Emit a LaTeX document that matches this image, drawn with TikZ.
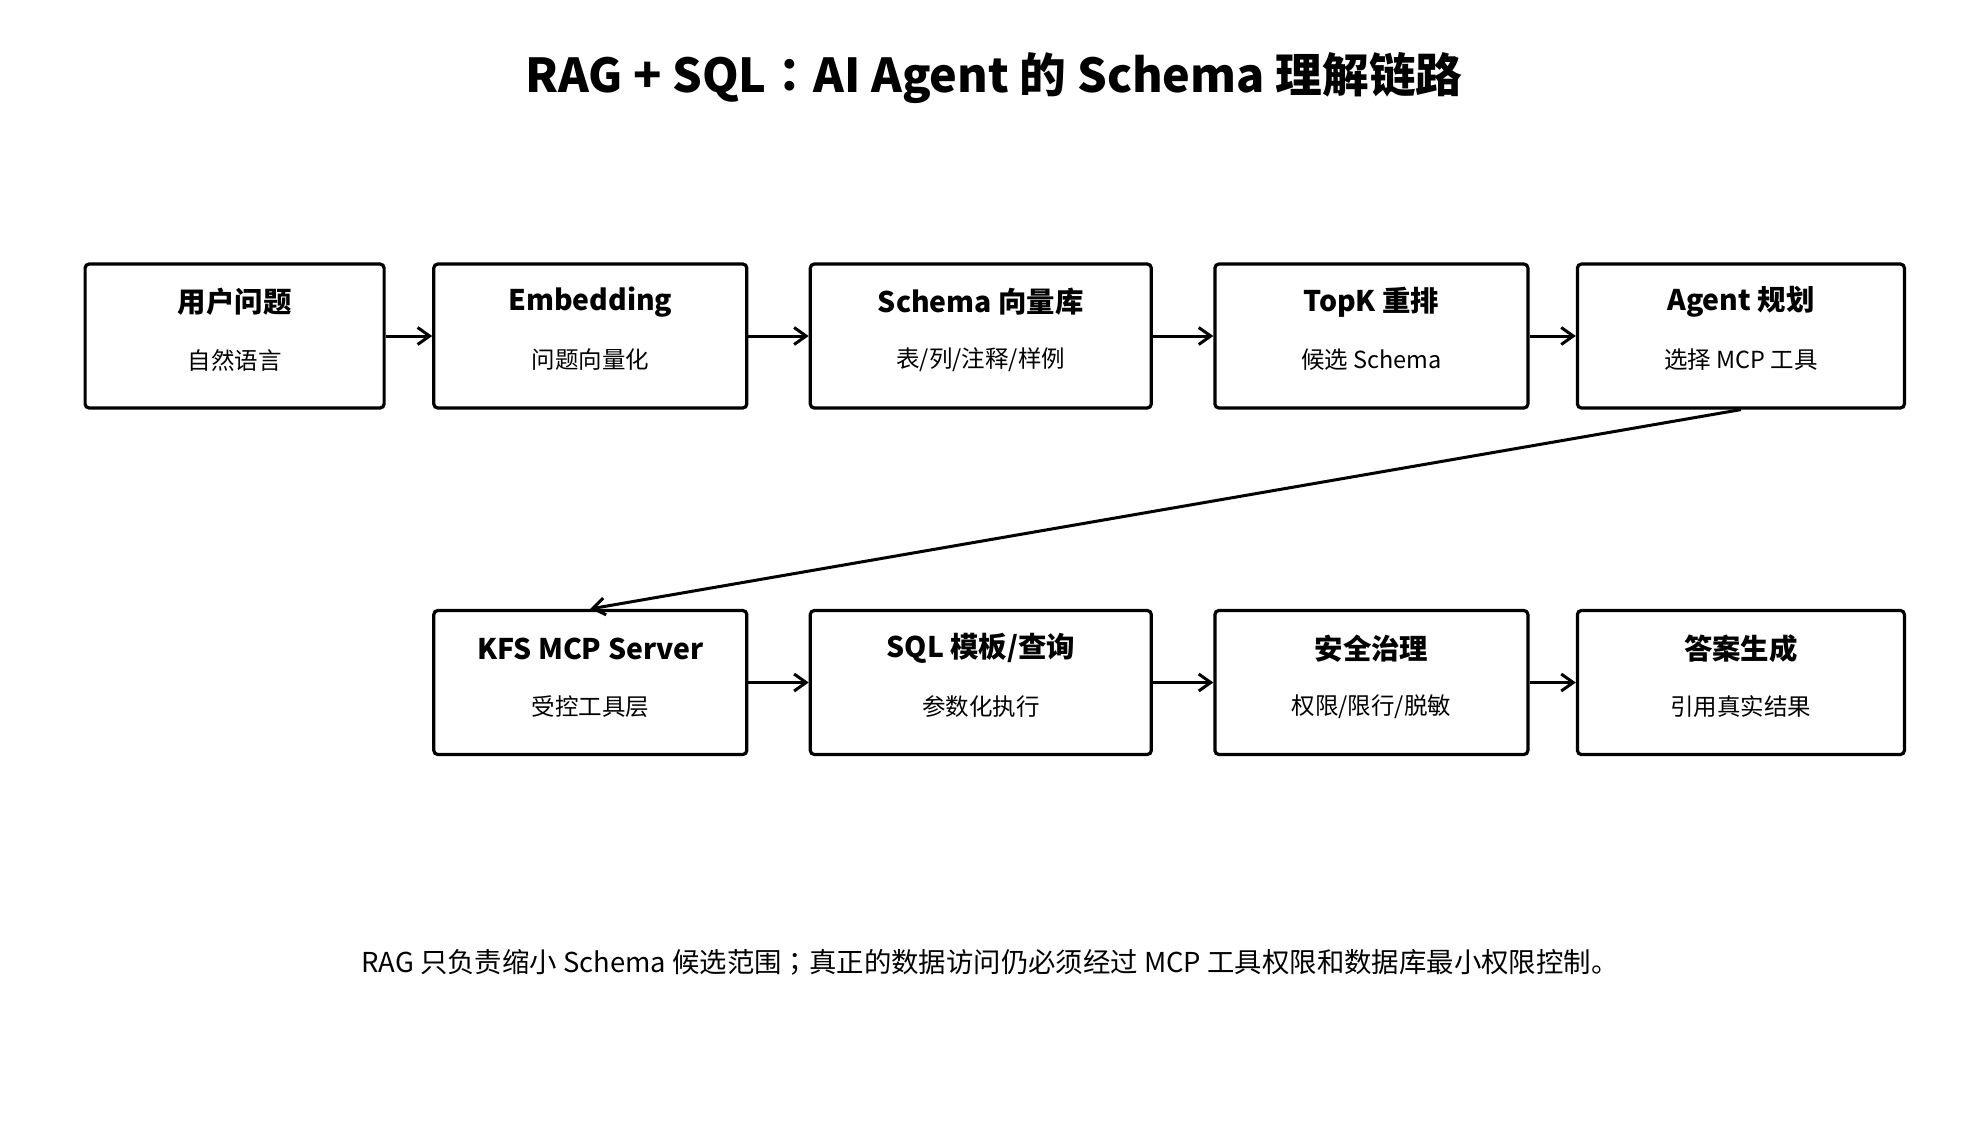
\documentclass[tikz,border=0pt]{standalone}
\usepackage{fontspec}
\setmainfont{Noto Sans CJK SC}
\newfontfamily\jpfont{Noto Sans CJK JP}
\usetikzlibrary{arrows.meta}

\begin{document}
\begin{tikzpicture}[x=1pt, y=-1pt,
  >={Straight Barb[length=12pt,width=17pt]},
  stage/.style={draw, line width=3.2pt, rounded corners=4pt, minimum height=144pt, inner sep=0pt},
  head/.style={font=\bfseries\fontsize{28.4}{34}\selectfont},
  sub/.style={font=\fontsize{23.5}{28}\selectfont},
  flow/.style={->, line width=3pt}]
\useasboundingbox (0,0) rectangle (1988,1144);

\node[font=\bfseries\fontsize{46.7}{54}\selectfont] (title) at (994,78) {RAG + SQL{\jpfont ：}AI Agent 的 Schema 理解链路};

% first row
\node[stage, minimum width=299pt] (q) at (234.6,336) {};
\node[head] at ([yshift=34pt]q.center) {用户问题};
\node[sub] at ([yshift=-24pt]q.center) {自然语言};
\node[stage, minimum width=313pt] (emb) at (590.3,336) {};
\node[head] at ([yshift=34pt]emb.center) {Embedding};
\node[sub] at ([yshift=-24pt]emb.center) {问题向量化};
\node[stage, minimum width=341pt] (vec) at (980.8,336) {};
\node[head] at ([yshift=34pt]vec.center) {Schema 向量库};
\node[sub] at ([yshift=-24pt]vec.center) {表/列/注释/样例};
\node[stage, minimum width=313pt] (topk) at (1371.4,336) {};
\node[head] at ([yshift=34pt]topk.center) {TopK 重排};
\node[sub] at ([yshift=-24pt]topk.center) {候选 Schema};
\node[stage, minimum width=327pt] (plan) at (1740.9,336) {};
\node[head] at ([yshift=34pt]plan.center) {Agent 规划};
\node[sub] at ([yshift=-24pt]plan.center) {选择 MCP 工具};

% second row
\node[stage, minimum width=313pt] (mcp) at (590.3,682.5) {};
\node[head] at ([yshift=34pt]mcp.center) {KFS MCP Server};
\node[sub] at ([yshift=-24pt]mcp.center) {受控工具层};
\node[stage, minimum width=341pt] (sql) at (980.8,682.5) {};
\node[head] at ([yshift=34pt]sql.center) {SQL 模板/查询};
\node[sub] at ([yshift=-24pt]sql.center) {参数化执行};
\node[stage, minimum width=313pt] (safe) at (1371.4,682.5) {};
\node[head] at ([yshift=34pt]safe.center) {安全治理};
\node[sub] at ([yshift=-24pt]safe.center) {权限/限行/脱敏};
\node[stage, minimum width=327pt] (ans) at (1740.9,682.5) {};
\node[head] at ([yshift=34pt]ans.center) {答案生成};
\node[sub] at ([yshift=-24pt]ans.center) {引用真实结果};

\draw[flow] (q) -- (emb);
\draw[flow] (emb) -- (vec);
\draw[flow] (vec) -- (topk);
\draw[flow] (topk) -- (plan);
\draw[flow] (plan.south) -- (mcp.north);
\draw[flow] (mcp) -- (sql);
\draw[flow] (sql) -- (safe);
\draw[flow] (safe) -- (ans);

\node[font=\fontsize{27.4}{32}\selectfont] (note) at (990,962) {RAG 只负责缩小 Schema 候选范围{\jpfont ；}真正的数据访问仍必须经过 MCP 工具权限和数据库最小权限控制。};
\end{tikzpicture}
\end{document}
